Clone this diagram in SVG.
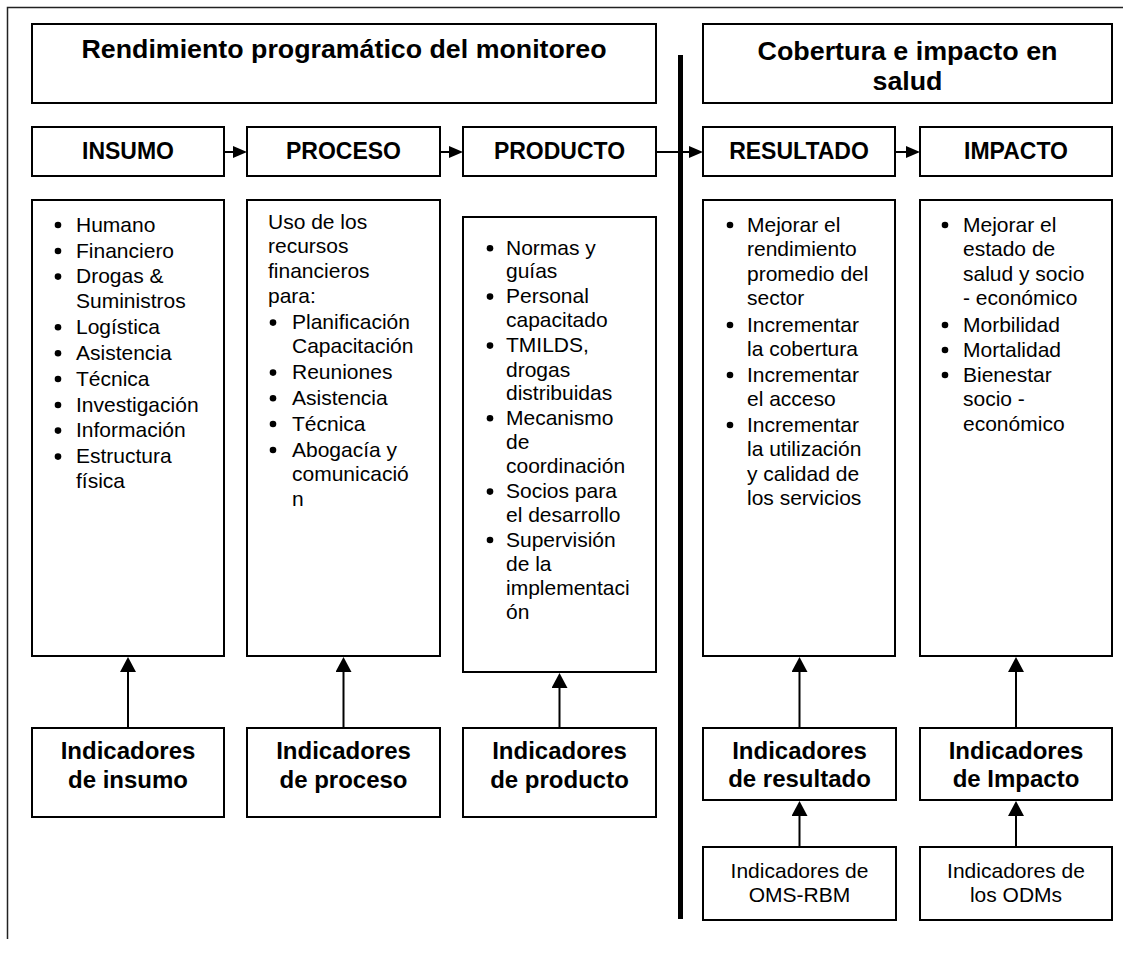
<svg xmlns="http://www.w3.org/2000/svg" width="1123" height="957" viewBox="0 0 1123 957">
<style>
.box{fill:#fff;stroke:#000;stroke-width:2}
.frame{fill:none;stroke:#222;stroke-width:1.5}
.title{font-family:"Liberation Sans",Arial,sans-serif;font-weight:bold;font-size:26px;fill:#000;text-anchor:middle}
.head{font-family:"Liberation Sans",Arial,sans-serif;font-weight:bold;font-size:23px;fill:#000;text-anchor:middle}
.ind{font-family:"Liberation Sans",Arial,sans-serif;font-weight:bold;font-size:24px;fill:#000;text-anchor:middle}
.body{font-family:"Liberation Sans",Arial,sans-serif;font-size:21px;fill:#000}
.small{font-family:"Liberation Sans",Arial,sans-serif;font-size:21px;fill:#000;text-anchor:middle}
.dot{fill:#000}
.conn{stroke:#000;stroke-width:2;fill:none}
.thick{stroke:#000;stroke-width:5}
</style>
<defs>
<marker id="ah" viewBox="0 0 14 12" markerWidth="14" markerHeight="12" refX="0" refY="6" orient="auto" markerUnits="userSpaceOnUse"><path d="M0,0 L14,6 L0,12 Z" fill="#000"/></marker>
<marker id="av" viewBox="0 0 15 16" markerWidth="15" markerHeight="16" refX="0" refY="8" orient="auto" markerUnits="userSpaceOnUse"><path d="M0,0 L15,8 L0,16 Z" fill="#000"/></marker>
</defs>
<rect width="1123" height="957" fill="#fff"/>
<path class="frame" d="M7.5,939 L7.5,7.5 L1123,7.5"/>

<g id="title-rendimiento"><rect class="box" x="32" y="24" width="624" height="79"/><text class="title" x="344" y="58" textLength="525" lengthAdjust="spacingAndGlyphs">Rendimiento programático del monitoreo</text></g>
<g id="title-cobertura"><rect class="box" x="703" y="24" width="409" height="79"/><text class="title" x="907.5" y="60" textLength="300" lengthAdjust="spacingAndGlyphs">Cobertura e impacto en</text><text class="title" x="907.5" y="90" textLength="70" lengthAdjust="spacingAndGlyphs">salud</text></g>

<g id="h-insumo"><rect class="box" x="32" y="127" width="192" height="49"/><text class="head" x="128" y="159">INSUMO</text></g>
<g id="h-proceso"><rect class="box" x="247" y="127" width="193" height="49"/><text class="head" x="343.5" y="159">PROCESO</text></g>
<g id="h-producto"><rect class="box" x="463" y="127" width="193" height="49"/><text class="head" x="559.5" y="159">PRODUCTO</text></g>
<g id="h-resultado"><rect class="box" x="703" y="127" width="192" height="49"/><text class="head" x="799" y="159">RESULTADO</text></g>
<g id="h-impacto"><rect class="box" x="920" y="127" width="192" height="49"/><text class="head" x="1016" y="159">IMPACTO</text></g>

<g id="c-insumo"><rect class="box" x="32" y="200" width="192" height="456"/>
<g class="dot"><circle cx="58" cy="225" r="3.3"/><circle cx="58" cy="251" r="3.3"/><circle cx="58" cy="276.6" r="3.3"/><circle cx="58" cy="327.3" r="3.3"/><circle cx="58" cy="353.3" r="3.3"/><circle cx="58" cy="379" r="3.3"/><circle cx="58" cy="405" r="3.3"/><circle cx="58" cy="430.6" r="3.3"/><circle cx="58" cy="456.6" r="3.3"/></g>
<text class="body"><tspan x="76" y="231.7">Humano</tspan><tspan x="76" y="257.7">Financiero</tspan><tspan x="76" y="283.3">Drogas &amp;</tspan><tspan x="76" y="308.3">Suministros</tspan><tspan x="76" y="334">Logística</tspan><tspan x="76" y="360">Asistencia</tspan><tspan x="76" y="385.7">Técnica</tspan><tspan x="76" y="411.7">Investigación</tspan><tspan x="76" y="437.3">Información</tspan><tspan x="76" y="463.3">Estructura</tspan><tspan x="76" y="487.7">física</tspan></text></g>

<g id="c-proceso"><rect class="box" x="247" y="200" width="193" height="456"/>
<g class="dot"><circle cx="273" cy="322.6" r="3.3"/><circle cx="273" cy="372.6" r="3.3"/><circle cx="273" cy="398.3" r="3.3"/><circle cx="273" cy="424" r="3.3"/><circle cx="273" cy="450" r="3.3"/></g>
<text class="body"><tspan x="268" y="229.3">Uso de los</tspan><tspan x="268" y="253.3">recursos</tspan><tspan x="268" y="278.3">financieros</tspan><tspan x="268" y="302.7">para:</tspan><tspan x="292" y="329.3">Planificación</tspan><tspan x="292" y="353.3">Capacitación</tspan><tspan x="292" y="379.3">Reuniones</tspan><tspan x="292" y="405">Asistencia</tspan><tspan x="292" y="430.7">Técnica</tspan><tspan x="292" y="456.7">Abogacía y</tspan><tspan x="292" y="480.7">comunicació</tspan><tspan x="292" y="506">n</tspan></text></g>

<g id="c-producto"><rect class="box" x="463" y="217" width="193" height="455"/>
<g class="dot"><circle cx="490" cy="248.3" r="3.3"/><circle cx="490" cy="296.6" r="3.3"/><circle cx="490" cy="345.6" r="3.3"/><circle cx="490" cy="418.3" r="3.3"/><circle cx="490" cy="491.6" r="3.3"/><circle cx="490" cy="540" r="3.3"/></g>
<text class="body"><tspan x="506" y="255">Normas y</tspan><tspan x="506" y="278.3">guías</tspan><tspan x="506" y="303.3">Personal</tspan><tspan x="506" y="327.3">capacitado</tspan><tspan x="506" y="352.3">TMILDS,</tspan><tspan x="506" y="376.7">drogas</tspan><tspan x="506" y="400">distribuidas</tspan><tspan x="506" y="425">Mecanismo</tspan><tspan x="506" y="449.3">de</tspan><tspan x="506" y="473.3">coordinación</tspan><tspan x="506" y="498.3">Socios para</tspan><tspan x="506" y="522.3">el desarrollo</tspan><tspan x="506" y="546.7">Supervisión</tspan><tspan x="506" y="571">de la</tspan><tspan x="506" y="595">implementaci</tspan><tspan x="506" y="619.3">ón</tspan></text></g>

<g id="c-resultado"><rect class="box" x="703" y="200" width="192" height="456"/>
<g class="dot"><circle cx="730" cy="225" r="3.3"/><circle cx="730" cy="325" r="3.3"/><circle cx="730" cy="375" r="3.3"/><circle cx="730" cy="425" r="3.3"/></g>
<text class="body"><tspan x="747" y="231.7">Mejorar el</tspan><tspan x="747" y="256">rendimiento</tspan><tspan x="747" y="280.7">promedio del</tspan><tspan x="747" y="305">sector</tspan><tspan x="747" y="331.7">Incrementar</tspan><tspan x="747" y="356">la cobertura</tspan><tspan x="747" y="381.7">Incrementar</tspan><tspan x="747" y="406">el acceso</tspan><tspan x="747" y="431.7">Incrementar</tspan><tspan x="747" y="456">la utilización</tspan><tspan x="747" y="481">y calidad de</tspan><tspan x="747" y="505">los servicios</tspan></text></g>

<g id="c-impacto"><rect class="box" x="920" y="200" width="192" height="456"/>
<g class="dot"><circle cx="945" cy="225" r="3.3"/><circle cx="945" cy="325" r="3.3"/><circle cx="945" cy="350" r="3.3"/><circle cx="945" cy="375" r="3.3"/></g>
<text class="body"><tspan x="963" y="231.7">Mejorar el</tspan><tspan x="963" y="256">estado de</tspan><tspan x="963" y="280.7">salud y socio</tspan><tspan x="963" y="305">- económico</tspan><tspan x="963" y="331.7">Morbilidad</tspan><tspan x="963" y="356.7">Mortalidad</tspan><tspan x="963" y="381.7">Bienestar</tspan><tspan x="963" y="406">socio -</tspan><tspan x="963" y="430.7">económico</tspan></text></g>

<g id="i-insumo"><rect class="box" x="32" y="728" width="192" height="89"/><text class="ind" x="128" y="759">Indicadores</text><text class="ind" x="128" y="788">de insumo</text></g>
<g id="i-proceso"><rect class="box" x="247" y="728" width="193" height="89"/><text class="ind" x="343.5" y="759">Indicadores</text><text class="ind" x="343.5" y="788">de proceso</text></g>
<g id="i-producto"><rect class="box" x="463" y="728" width="193" height="89"/><text class="ind" x="559.5" y="759">Indicadores</text><text class="ind" x="559.5" y="788">de producto</text></g>
<g id="i-resultado"><rect class="box" x="703" y="728" width="193" height="72"/><text class="ind" x="799.5" y="759">Indicadores</text><text class="ind" x="799.5" y="787">de resultado</text></g>
<g id="i-impacto"><rect class="box" x="920" y="728" width="192" height="72"/><text class="ind" x="1016" y="759">Indicadores</text><text class="ind" x="1016" y="787">de Impacto</text></g>
<g id="s-oms"><rect class="box" x="703" y="847" width="193" height="73"/><text class="small" x="799.5" y="878">Indicadores de</text><text class="small" x="799.5" y="902">OMS-RBM</text></g>
<g id="s-odm"><rect class="box" x="920" y="847" width="192" height="73"/><text class="small" x="1016" y="878">Indicadores de</text><text class="small" x="1016" y="902">los ODMs</text></g>

<g id="connectors">
<line class="conn" x1="224" y1="152" x2="233" y2="152" marker-end="url(#ah)"/>
<line class="conn" x1="440" y1="152" x2="449" y2="152" marker-end="url(#ah)"/>
<line class="conn" x1="656" y1="152" x2="689" y2="152" marker-end="url(#ah)"/>
<line class="conn" x1="895" y1="152" x2="906" y2="152" marker-end="url(#ah)"/>
<line class="conn" x1="128" y1="728" x2="128" y2="672" marker-end="url(#av)"/>
<line class="conn" x1="343.5" y1="728" x2="343.5" y2="672" marker-end="url(#av)"/>
<line class="conn" x1="559.5" y1="728" x2="559.5" y2="688" marker-end="url(#av)"/>
<line class="conn" x1="799.5" y1="728" x2="799.5" y2="672" marker-end="url(#av)"/>
<line class="conn" x1="1016" y1="728" x2="1016" y2="672" marker-end="url(#av)"/>
<line class="conn" x1="799.5" y1="847" x2="799.5" y2="816" marker-end="url(#av)"/>
<line class="conn" x1="1016" y1="847" x2="1016" y2="816" marker-end="url(#av)"/>
<line class="thick" x1="680.5" y1="55" x2="680.5" y2="919"/>
</g>
</svg>
